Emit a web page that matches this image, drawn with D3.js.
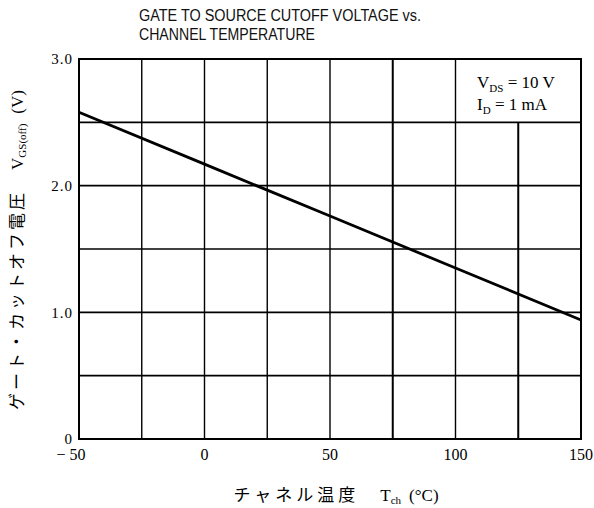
<!DOCTYPE html>
<html>
<head>
<meta charset="utf-8">
<script src="https://cdn.jsdelivr.net/npm/d3@7"></script>
<style>
  body { margin: 0; background: #fff; }
  svg { display: block; }
</style>
</head>
<body>
<svg id="chart" width="594" height="508"></svg>
<script>
// values
var temperature = [-50, 0, 50, 100, 150];
var vgsOff = [2.58, 2.17, 1.76, 1.35, 0.94];
var xTicks = [-50, 0, 50, 100, 150];
var xGrid = [-25, 0, 25, 50, 75, 100, 125];
var yTicks = [0, 1, 2, 3];
var yGrid = [0.5, 1, 1.5, 2, 2.5];
var titleLines = ["GATE TO SOURCE CUTOFF VOLTAGE vs.", "CHANNEL TEMPERATURE"];

var svg = d3.select("#chart");
var margin = {left: 79, right: 13, top: 59, bottom: 69};
var width = 594 - margin.left - margin.right;
var height = 508 - margin.top - margin.bottom;

var x = d3.scaleLinear().domain([-50, 150]).range([0, width]);
var y = d3.scaleLinear().domain([0, 3]).range([height, 0]);

var g = svg.append("g")
    .attr("transform", "translate(" + margin.left + "," + margin.top + ")");

// title
svg.selectAll("text.title")
    .data(titleLines)
    .enter().append("text")
    .attr("class", "title")
    .attr("x", 139)
    .attr("y", function(d, i) { return 21 + i * 19; })
    .attr("textLength", function(d, i) { return i === 0 ? 282 : 176; })
    .attr("lengthAdjust", "spacingAndGlyphs")
    .style("font-family", "'Liberation Sans', Arial, sans-serif")
    .style("font-size", "16px")
    .style("fill", "#111")
    .text(function(d) { return d; });

// grid, the 125 line stops under the condition box
g.selectAll("line.xgrid")
    .data(xGrid)
    .enter().append("line")
    .attr("class", "xgrid")
    .attr("x1", function(d) { return x(d); })
    .attr("x2", function(d) { return x(d); })
    .attr("y1", height)
    .attr("y2", function(d) { return d === 125 ? y(2.5) : 0; })
    .style("stroke", "#000")
    .style("stroke-width", function(d) { return (d === 75 || d === 125) ? 2 : 1.4; });

g.selectAll("line.ygrid")
    .data(yGrid)
    .enter().append("line")
    .attr("class", "ygrid")
    .attr("x1", 0)
    .attr("x2", width)
    .attr("y1", function(d) { return y(d); })
    .attr("y2", function(d) { return y(d); })
    .style("stroke", "#000")
    .style("stroke-width", 1.6);

// frame
g.append("rect")
    .attr("x", 0).attr("y", 0)
    .attr("width", width).attr("height", height)
    .style("fill", "none")
    .style("stroke", "#000")
    .style("stroke-width", 2);

// tick labels
g.selectAll("text.ytick")
    .data(yTicks)
    .enter().append("text")
    .attr("class", "ytick")
    .attr("x", -6)
    .attr("y", function(d) { return y(d); })
    .attr("dy", "0.35em")
    .attr("text-anchor", "end")
    .style("font-family", "'Liberation Serif', 'DejaVu Serif', serif")
    .style("font-size", "15px")
    .style("letter-spacing", "1px")
    .text(function(d) { return d === 0 ? "0" : d3.format(".1f")(d); });

g.selectAll("text.xtick")
    .data(xTicks)
    .enter().append("text")
    .attr("class", "xtick")
    .attr("x", function(d) { return x(d) + (d < 0 ? -8 : 0); })
    .attr("y", height + 21)
    .attr("text-anchor", "middle")
    .style("font-family", "'Liberation Serif', 'DejaVu Serif', serif")
    .style("font-size", "16px")
    .text(function(d) { return d < 0 ? "\u2212 " + Math.abs(d) : d; });

// curve
var line = d3.line()
    .x(function(d, i) { return x(temperature[i]); })
    .y(function(d) { return y(d); });

g.append("path")
    .datum(vgsOff)
    .attr("d", line)
    .style("fill", "none")
    .style("stroke", "#000")
    .style("stroke-width", 2.8);

// conditions
var cond = g.append("g")
    .style("font-family", "'Liberation Serif', 'DejaVu Serif', serif")
    .style("font-size", "17px");

var c1 = cond.append("text").attr("x", x(107) + 4).attr("y", 29);
c1.append("tspan").text("V");
c1.append("tspan").attr("dy", 4).style("font-size", "11px").text("DS");
c1.append("tspan").attr("dy", -4).text(" = 10 V");

var c2 = cond.append("text").attr("x", x(107) + 4).attr("y", 51);
c2.append("tspan").text("I");
c2.append("tspan").attr("dy", 4).style("font-size", "11px").text("D");
c2.append("tspan").attr("dy", -4).text(" = 1 mA");

// axis titles
var xl = svg.append("text")
    .attr("x", 336)
    .attr("y", 501)
    .attr("text-anchor", "middle")
    .style("font-size", "17px");
xl.append("tspan")
    .style("font-family", "'Noto Sans CJK JP', sans-serif")
    .style("letter-spacing", "4px")
    .text("チャネル温度\u3000");
xl.append("tspan")
    .style("font-family", "'Liberation Serif', serif")
    .text("T");
xl.append("tspan")
    .attr("dy", 3)
    .style("font-family", "'Liberation Serif', serif")
    .style("font-size", "11px")
    .text("ch");
xl.append("tspan")
    .attr("dy", -3)
    .attr("dx", 8)
    .style("font-family", "'Liberation Serif', serif")
    .text("(°C)");

var yl = svg.append("text")
    .attr("transform", "translate(23," + 250 + ") rotate(-90)")
    .attr("text-anchor", "middle")
    .style("font-size", "17px");
yl.append("tspan")
    .style("font-family", "'Noto Sans CJK JP', sans-serif")
    .style("letter-spacing", "3px")
    .text("ゲート・カットオフ電圧\u3000");
yl.append("tspan")
    .style("font-family", "'Liberation Serif', serif")
    .text("V");
yl.append("tspan")
    .attr("dy", 3)
    .style("font-family", "'Liberation Serif', serif")
    .style("font-size", "11px")
    .text("GS(off)");
yl.append("tspan")
    .attr("dy", -3)
    .attr("dx", 10)
    .style("font-family", "'Liberation Serif', serif")
    .text("(V)");
</script>
</body>
</html>
